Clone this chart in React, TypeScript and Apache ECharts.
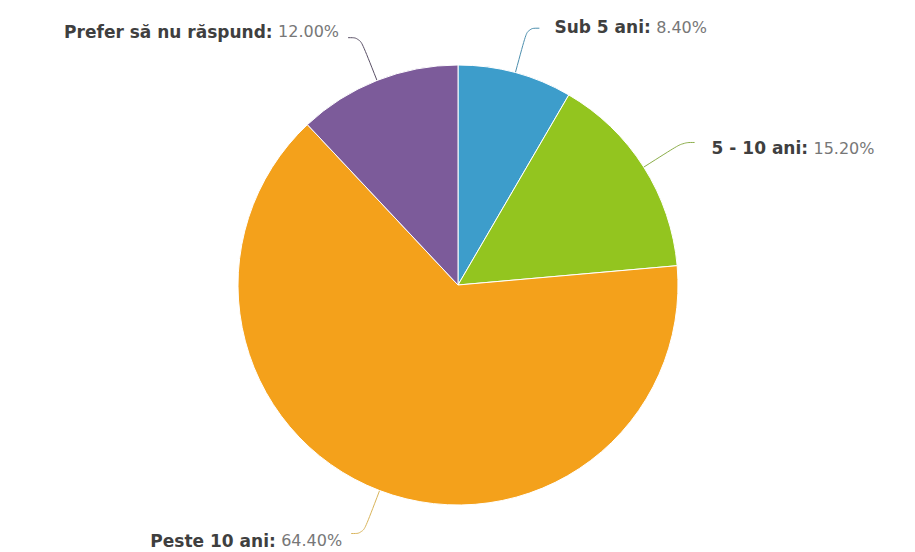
import React, { useEffect, useRef } from "react";
import * as echarts from "echarts";

const categories = ["Sub 5 ani", "5 - 10 ani", "Peste 10 ani", "Prefer să nu răspund"];
const values = [8.4, 15.2, 64.4, 12.0];
const colors = ["#3d9dcb", "#93c51f", "#f4a11b", "#7c5b9a"];
const lineColors = ["#4d8fae", "#8cae4a", "#d9b45a", "#5a5066"];
const labelShiftX = [6, 8, 0, 0];
const labelShiftY = [-1, 6, 7, -6];

export default function App() {
  const ref = useRef<HTMLDivElement>(null);
  useEffect(() => {
    if (!ref.current) return;
    const chart = echarts.init(ref.current, null, { renderer: "svg" });
    chart.setOption({
      animation: false,
      backgroundColor: "#ffffff",
      series: [
        {
          type: "pie",
          center: [458, 285],
          radius: 220,
          startAngle: 90,
          clockwise: true,
          avoidLabelOverlap: false,
          data: categories.map((c, i) => ({
            name: c,
            value: values[i],
            itemStyle: { color: colors[i] },
            labelLine: { lineStyle: { color: lineColors[i] } },
          })),
          itemStyle: { borderColor: "#ffffff", borderWidth: 1 },
          label: {
            show: true,
            position: "outside",
            distanceToLabelLine: 9,
            fontFamily: "DejaVu Sans",
            fontSize: 17,
            formatter: (p: any) => `{n|${p.name}:} {v|${Number(p.value).toFixed(2)}%}`,
            rich: {
              n: { fontFamily: "DejaVu Sans", fontSize: 17, fontWeight: "bold", color: "#3f3f3f" },
              v: { fontFamily: "DejaVu Sans", fontSize: 16, color: "#777777" },
            },
          },
          labelLayout: (p: any) => ({ dx: labelShiftX[p.dataIndex], dy: labelShiftY[p.dataIndex] }),
          labelLine: {
            show: true,
            length: 46,
            length2: 12,
            smooth: 0.4,
            lineStyle: { width: 1 },
          },
        },
      ],
    });
    return () => chart.dispose();
  }, []);
  return (
    <div
      ref={ref}
      style={{ position: "absolute", left: 0, top: 0, width: 915, height: 552 }}
    />
  );
}
